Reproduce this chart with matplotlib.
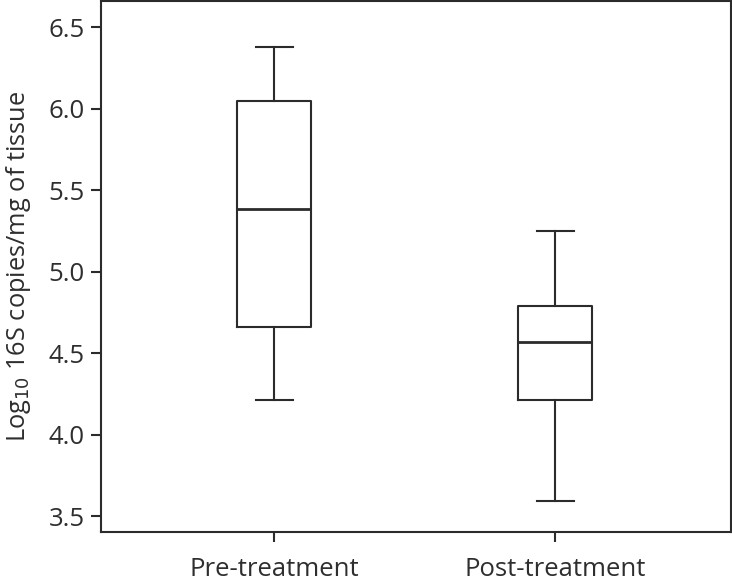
import matplotlib
matplotlib.use("Agg")
import matplotlib.pyplot as plt

plt.rcParams['font.family'] = ['Open Sans', 'DejaVu Sans']

groups = ["Pre-treatment", "Post-treatment"]
whisker_low = [4.21, 3.59]
q1 = [4.66, 4.21]
median = [5.385, 4.57]
q3 = [6.05, 4.79]
whisker_high = [6.38, 5.25]

line_color = "#2b2b2b"
text_color = "#2e2e2e"

stats = []
for i, g in enumerate(groups):
    stats.append({
        "label": g,
        "whislo": whisker_low[i],
        "q1": q1[i],
        "med": median[i],
        "q3": q3[i],
        "whishi": whisker_high[i],
        "fliers": [],
    })

fig = plt.figure(figsize=(7.32, 5.84), dpi=100)
ax = fig.add_axes([0.1384, 0.0885, 0.8598, 0.9095])

lw = 1.5
ax.bxp(stats, positions=[1, 2], widths=0.263, showfliers=False,
       boxprops=dict(color=line_color, linewidth=lw),
       medianprops=dict(color=line_color, linewidth=2.0),
       whiskerprops=dict(color=line_color, linewidth=lw),
       capprops=dict(color=line_color, linewidth=lw))

ax.set_xlim(0.385, 2.625)
ax.set_ylim(3.40, 6.661)
ax.set_yticks([3.5, 4.0, 4.5, 5.0, 5.5, 6.0, 6.5])
ax.set_yticklabels(["3.5", "4.0", "4.5", "5.0", "5.5", "6.0", "6.5"])
ax.set_xticks([1, 2])
ax.set_xticklabels(groups)

for s in ax.spines.values():
    s.set_color(line_color)
    s.set_linewidth(1.5)

ax.tick_params(axis='both', colors=line_color, labelcolor=text_color,
               labelsize=18.5, length=7, width=1.5)
ax.tick_params(axis='y', pad=5)
ax.tick_params(axis='x', pad=11)
ax.set_ylabel("Log$_{10}$ 16S copies/mg of tissue", fontsize=18.3, color=text_color, labelpad=11)

fig.savefig("out.png", dpi=100)
